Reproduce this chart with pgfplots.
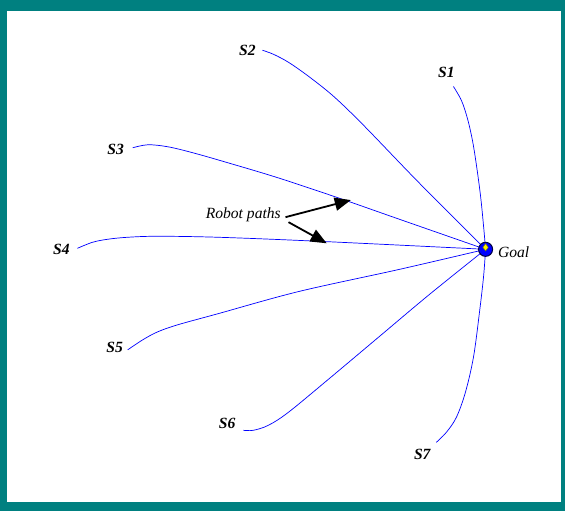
\documentclass[border=0pt]{standalone}
\usepackage{fontspec}
\setmainfont{Liberation Serif}
\usepackage{pgfplots}
\pgfplotsset{compat=1.18}
\usetikzlibrary{arrows.meta}
\definecolor{frame}{RGB}{0,128,128}
\tikzset{lbl/.style={font=\fontsize{15.5bp}{17bp}\selectfont\bfseries\itshape, text=black},
  rpath/.style={blue, line width=0.7bp, smooth, tension=0.55, no marks, solid}}
\begin{document}
\begin{tikzpicture}
\begin{axis}[
  width=565bp, height=508bp, scale only axis,
  xmin=0, xmax=565, ymin=0, ymax=508, y dir=reverse,
  axis lines=none, clip=false
]
\fill[frame] (axis cs:3,0) rectangle (axis cs:565,508);
\fill[white] (axis cs:10,11) rectangle (axis cs:561,499);
% S1
\addplot[rpath] coordinates {(454,86) (462,100) (468,118) (473,140) (477,165) (481,195) (484,225) (486,248)};
% S2
\addplot[rpath] coordinates {(264,50) (275,54) (290,62) (310,76) (335,96) (365,125) (420,182) (486,248)};
% S3
\addplot[rpath] coordinates {(135,147) (150,144) (170,146) (195,152) (230,162) (280,177) (340,197) (400,218) (486,248)};
% S4
\addplot[rpath] coordinates {(80,247) (95,241) (110,238) (130,236) (160,235) (220,236) (320,240) (486,248)};
% S5
\addplot[rpath] coordinates {(130,348) (145,338) (160,330) (180,323) (220,312) (300,290) (400,268) (486,248)};
% S6
\addplot[rpath] coordinates {(245,428) (255,428) (270,423) (290,410) (330,377) (380,335) (430,293) (486,248)};
% S7
\addplot[rpath] coordinates {(437,440) (447,430) (457,415) (466,390) (474,355) (480,310) (484,275) (486,248)};
% goal marker
\addplot[only marks, mark=*, mark size=7bp, mark options={fill=blue, draw=black!75!blue, line width=1bp}] coordinates {(486,248)};
\addplot[only marks, mark=diamond*, mark size=3.5bp, mark options={fill=yellow, draw=olive, line width=0.5bp}] coordinates {(486,246)};
\node[lbl] at (axis cs:447,72) {S1};
\node[lbl] at (axis cs:249,50) {S2};
\node[lbl] at (axis cs:118,149) {S3};
\node[lbl] at (axis cs:64,248) {S4};
\node[lbl] at (axis cs:117,346) {S5};
\node[lbl] at (axis cs:229,421) {S6};
\node[lbl] at (axis cs:423,452) {S7};
\node[font=\fontsize{15.5bp}{17bp}\selectfont\itshape] at (axis cs:514,251) {Goal};
\node[font=\fontsize{15.5bp}{17bp}\selectfont\itshape] at (axis cs:245,214) {Robot paths};
\draw[black, line width=1.8bp, -{Triangle[length=16bp,width=13bp]}] (axis cs:287,216) -- (axis cs:352,199);
\draw[black, line width=1.8bp, -{Triangle[length=16bp,width=13bp]}] (axis cs:290,221) -- (axis cs:328,242);
\end{axis}
\end{tikzpicture}
\end{document}
